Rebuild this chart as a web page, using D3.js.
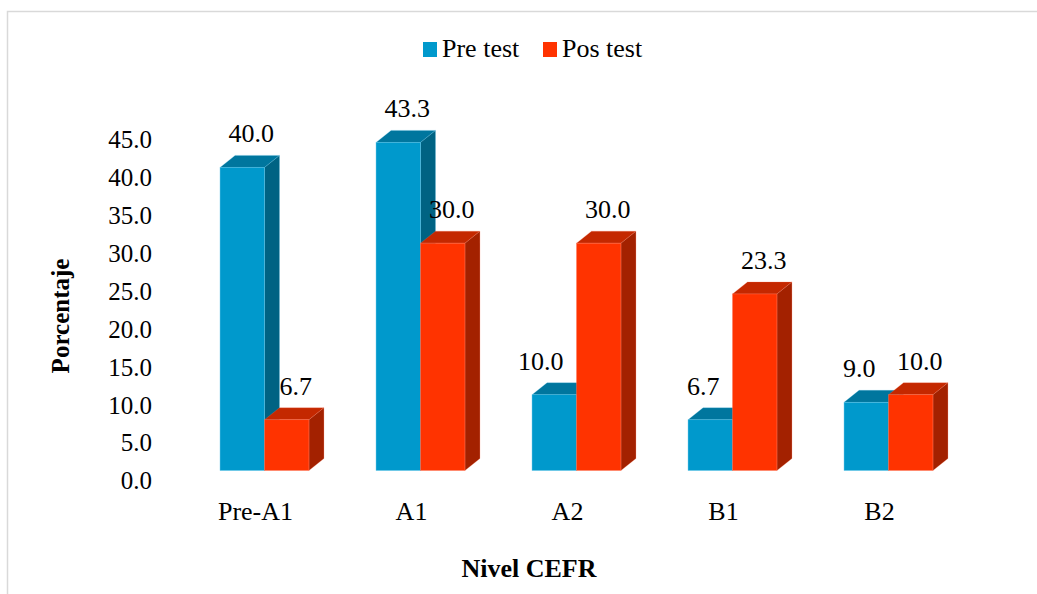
<!DOCTYPE html>
<html>
<head>
<meta charset="utf-8">
<script src="https://cdn.jsdelivr.net/npm/d3@7/dist/d3.min.js"></script>
<style>
  html, body { margin: 0; padding: 0; background: #fff; }
</style>
</head>
<body>
<svg id="chart" width="1037" height="594" font-family="'Liberation Serif', 'Times New Roman', serif"></svg>
<script>
const categories = ["Pre-A1", "A1", "A2", "B1", "B2"];
const preTest = [40.0, 43.3, 10.0, 6.7, 9.0];
const posTest = [6.7, 30.0, 30.0, 23.3, 10.0];
const seriesNames = ["Pre test", "Pos test"];
const yTicks = [0, 5, 10, 15, 20, 25, 30, 35, 40, 45];

const FONT = "'Liberation Serif', 'Times New Roman', serif";
const svg = d3.select("#chart");

// outer frame
svg.append("rect").attr("x", 7.5).attr("y", 11.5).attr("width", 1100).attr("height", 700)
  .attr("fill", "none").attr("stroke", "#d9d9d9").attr("stroke-width", 1.5);

const x = d3.scaleBand().domain(categories).range([186.5, 966.5]).paddingInner(0.43).paddingOuter(0.215);
const y = d3.scaleLinear().domain([0, 45]).range([470.5, 129.5]);
const dx = 15, dy = 12;

const colors = [
  { front: "#0099cc", top: "#00769e", side: "#006383", edge: "#5cc4e8" },
  { front: "#ff3300", top: "#c42800", side: "#a32100", edge: "#ff7a5c" }
];

const data = categories.map((c, i) => ({ c, vals: [preTest[i], posTest[i]] }));
const bw = x.bandwidth() / 2;

function barGroup(g, x0, v, col) {
  const yt = y(v), yb = y(0), w = bw;
  g.append("path")
    .attr("d", `M${x0},${yt}L${x0 + dx},${yt - dy}L${x0 + w + dx},${yt - dy}L${x0 + w},${yt}Z`)
    .attr("fill", col.top).attr("stroke", col.edge).attr("stroke-width", 0.4).attr("stroke-opacity", 0.6);
  g.append("path")
    .attr("d", `M${x0 + w},${yt}L${x0 + w + dx},${yt - dy}L${x0 + w + dx},${yb - dy}L${x0 + w},${yb}Z`)
    .attr("fill", col.side).attr("stroke", col.edge).attr("stroke-width", 0.4).attr("stroke-opacity", 0.6);
  g.append("rect").attr("x", x0).attr("y", yt).attr("width", w).attr("height", yb - yt)
    .attr("fill", col.front).attr("stroke", col.edge).attr("stroke-width", 0.6).attr("stroke-opacity", 0.7);
}

const bars = svg.append("g");
data.forEach(d => {
  const g = bars.append("g");
  d.vals.forEach((v, s) => barGroup(g, x(d.c) + s * bw, v, colors[s]));
});

function txt(parent) {
  return parent.append("text").attr("font-family", FONT).attr("fill", "#000");
}

// data labels
const labels = svg.append("g");
data.forEach(d => {
  const [pre, pos] = d.vals;
  const preX = x(d.c), posX = x(d.c) + bw;
  if (pre < pos) {
    txt(labels).attr("x", posX - 13).attr("y", y(pre) - 25).attr("font-size", 26)
      .attr("text-anchor", "end").text(pre.toFixed(1));
  } else {
    txt(labels).attr("x", preX + bw / 2 + 9).attr("y", y(pre) - 25).attr("font-size", 26)
      .attr("text-anchor", "middle").text(pre.toFixed(1));
  }
  txt(labels).attr("x", posX + bw / 2 + 9).attr("y", y(pos) - 25).attr("font-size", 26)
    .attr("text-anchor", "middle").text(pos.toFixed(1));
});

// y tick labels
const yg = svg.append("g");
yTicks.forEach(t => {
  txt(yg).attr("x", 152).attr("y", y(t) + 18.8).attr("text-anchor", "end")
    .attr("font-size", 25).text(t.toFixed(1));
});

// category labels
const xg = svg.append("g");
categories.forEach(c => {
  txt(xg).attr("x", x(c) + x.bandwidth() / 2 - 9).attr("y", 520)
    .attr("text-anchor", "middle").attr("font-size", 26).text(c);
});

// axis titles
txt(svg).attr("x", 529).attr("y", 577).attr("text-anchor", "middle")
  .attr("font-size", 26).attr("font-weight", "bold").text("Nivel CEFR");
txt(svg).attr("transform", "translate(69,316) rotate(-90)").attr("text-anchor", "middle")
  .attr("font-size", 25).attr("font-weight", "bold").text("Porcentaje");

// legend
const legend = svg.append("g");
const legendX = [423, 543];
seriesNames.forEach((n, i) => {
  legend.append("rect").attr("x", legendX[i]).attr("y", 42).attr("width", 14).attr("height", 15)
    .attr("fill", colors[i].front);
  txt(legend).attr("x", legendX[i] + 19).attr("y", 57).attr("font-size", 26).text(n);
});
</script>
</body>
</html>
